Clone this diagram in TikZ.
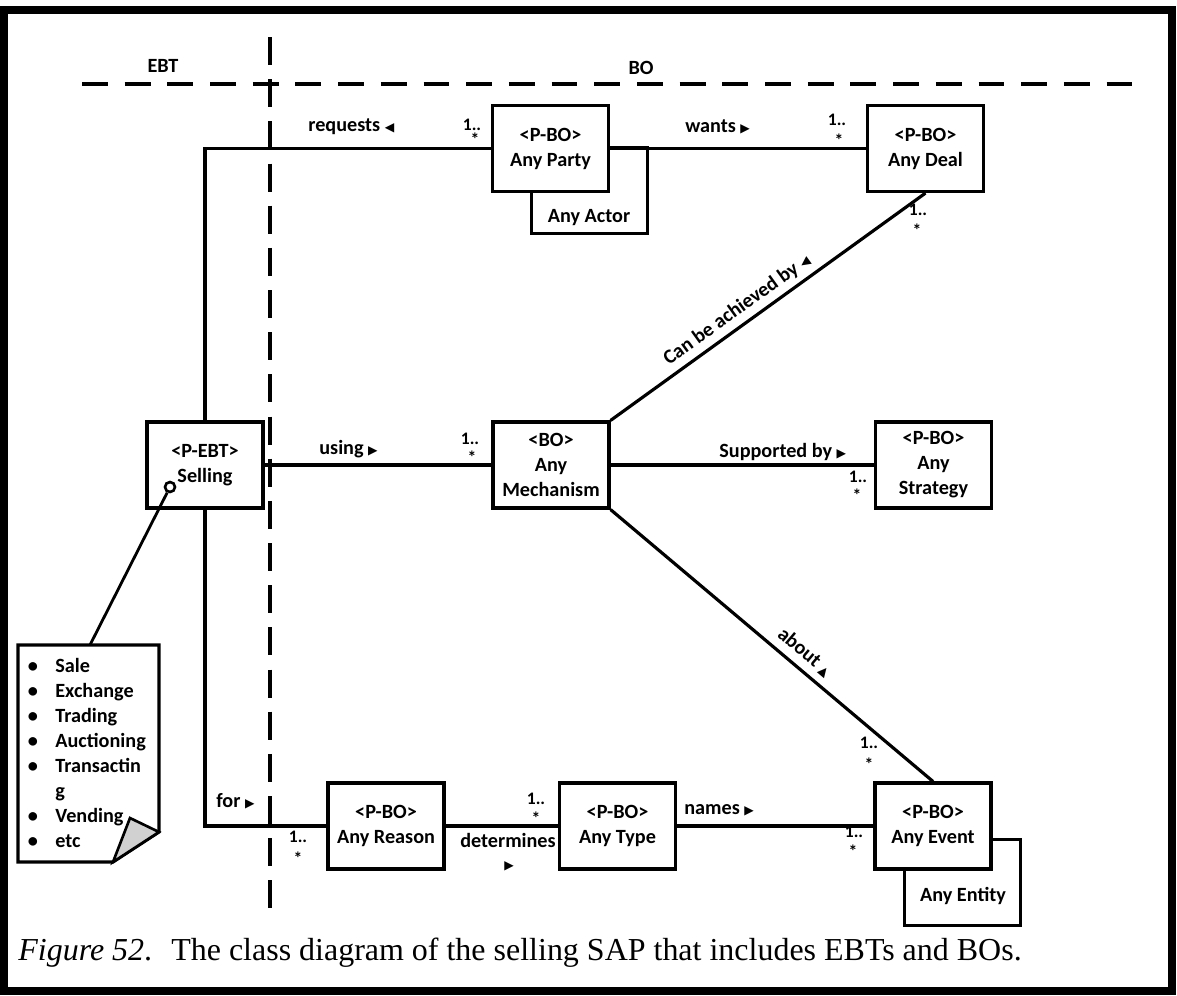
\documentclass[tikz,border=0pt]{standalone}
\usepackage{fontspec}
\setmainfont{Carlito}
\newfontfamily\capfont{Liberation Serif}
\newfontfamily\symfont{DejaVu Sans}
\newcommand{\rtri}{{\symfont\fontsize{7}{7}\selectfont ▶}}
\newcommand{\ltri}{{\symfont\fontsize{7}{7}\selectfont ◀}}
\newcommand{\utri}{{\symfont\fontsize{7}{7}\selectfont ▲}}
\begin{document}
\begin{tikzpicture}[x=0.02cm,y=-0.02cm,
  every node/.style={font=\bfseries\fontsize{11.5}{14.2}\selectfont},
  cls/.style={draw, line width=1.8pt, fill=white, align=center, inner sep=0pt,
              minimum width=2.32cm, minimum height=1.72cm},
  conn/.style={line width=1.8pt},
  mult/.style={font=\bfseries\fontsize{10}{10}\selectfont, inner sep=0pt},
  lbl/.style={inner sep=0pt, anchor=west},
  txt/.style={inner sep=0pt},
  sepline/.style={line width=2pt}
]
\useasboundingbox (0,0) rectangle (1177,995);

% outer frame
\draw[line width=4.5pt] (4,10) rectangle (1172,991);

% EBT / BO partition
\draw[sepline, dash pattern=on 14.7pt off 9.6pt] (82,84) -- (1148,84);
\draw[sepline, dash pattern=on 16pt off 8pt] (270,37) -- (270,922);
\node[txt] (ebt) at (163,66) {EBT};
\node[txt] (bo) at (641,68) {BO};

% classes
\node[cls] (actor) at (589.5,190.5) {};
\node[txt] (actortxt) at (589,218) {Any Actor};
\node[cls] (party) at (550.5,148.5) {<P-BO>\\Any Party};
\node[cls] (deal) at (925.5,148.5) {<P-BO>\\Any Deal};
\node[cls] (selling) at (205,465) {<P-EBT>\\Selling};
\node[cls] (mech) at (551,465) {<BO>\\Any\\Mechanism};
\node[cls] (strat) at (933.5,465) {<P-BO>\\Any\\Strategy};
\node[cls] (reason) at (386,826) {<P-BO>\\Any Reason};
\node[cls] (type) at (617.5,826) {<P-BO>\\Any Type};
\node[cls] (entity) at (962.5,882.5) {};
\node[txt] (entitytxt) at (963,896) {Any Entity};
\node[cls] (event) at (933,826) {<P-BO>\\Any Event};

% associations
\draw[conn] (selling.north) |- (party.west);
\draw[conn] (selling.south) |- (reason.west);
\draw[conn] (selling.east) -- (mech.west);
\draw[conn] (party.east) -- (deal.west);
\draw[conn] (mech.east) -- (strat.west);
\draw[conn] (reason.east) -- (type.west);
\draw[conn] (type.east) -- (event.west);
\draw[conn] (mech.north east) -- node[sloped, above, pos=0.43, inner sep=3pt] (achlbl) {Can be achieved by \ltri} (deal.south);
\draw[conn] (mech.south east) -- node[sloped, above, pos=0.57, inner sep=4pt] (aboutlbl) {about \utri} (event.north);

% association names
\node[lbl] (reqlbl) at (308,127) {requests \ltri};
\node[lbl] (wantslbl) at (685,127) {wants \rtri};
\node[lbl] (usinglbl) at (319,449) {using \rtri};
\node[lbl] (suplbl) at (719,452) {Supported by \rtri};
\node[lbl] (forlbl) at (216,801) {for \rtri};
\node[txt] (detlbl) at (508,840) {determines};
\node[txt] (detarrow) at (509,866) {\rtri};
\node[lbl] (nameslbl) at (684,810) {names \rtri};

% multiplicities
\node[mult] (m1a) at (472,125) {1..};  \node[mult] (m1b) at (475,139) {*};
\node[mult] (m2a) at (837,120) {1..};  \node[mult] (m2b) at (839,140) {*};
\node[mult] (m3a) at (918,210) {1..};  \node[mult] (m3b) at (917,230) {*};
\node[mult] (m4a) at (470,439) {1..};  \node[mult] (m4b) at (472,457) {*};
\node[mult] (m5a) at (858,477) {1..};  \node[mult] (m5b) at (857,495) {*};
\node[mult] (m6a) at (298,837) {1..};  \node[mult] (m6b) at (298,858) {*};
\node[mult] (m7a) at (536,799) {1..};  \node[mult] (m7b) at (536,818) {*};
\node[mult] (m8a) at (854,832) {1..};  \node[mult] (m8b) at (853,851) {*};
\node[mult] (m9a) at (869,743) {1..};  \node[mult] (m9b) at (869,764) {*};

% note with folded corner
\draw[line width=1.8pt, fill=white] (18,645) -- (159,645) -- (159,832) -- (113,862) -- (18,862) -- cycle;
\draw[line width=1.5pt, fill=black!18] (159,832) -- (130,818) -- (113,862) -- cycle;
\foreach \t/\b [count=\i] in {Sale/1,Exchange/1,Trading/1,Auctioning/1,Transactin/1,g/0,Vending/1,etc/1} {
  \node[txt, anchor=base west] (item\i) at (55,{672+25.1*(\i-1)}) {\t};
  \ifnum\b=1 \node[txt, anchor=base] (bullet\i) at (33,{672+25.1*(\i-1)}) {•};\fi
}
\coordinate (notetop) at (90,645);
\node[circle, draw, line width=1.5pt, fill=white, inner sep=0pt, minimum size=0.2cm] (hook) at (170,487) {};
\draw[line width=1.6pt] (notetop) -- (hook);

% caption
\node[anchor=base west, inner sep=0pt, font=\capfont\fontsize{18.2}{20}\selectfont] (caption) at (18,960)
  {\textit{Figure 52}.\hspace{0.6em}The class diagram of the selling SAP that includes EBTs and BOs.};
\end{tikzpicture}
\end{document}
